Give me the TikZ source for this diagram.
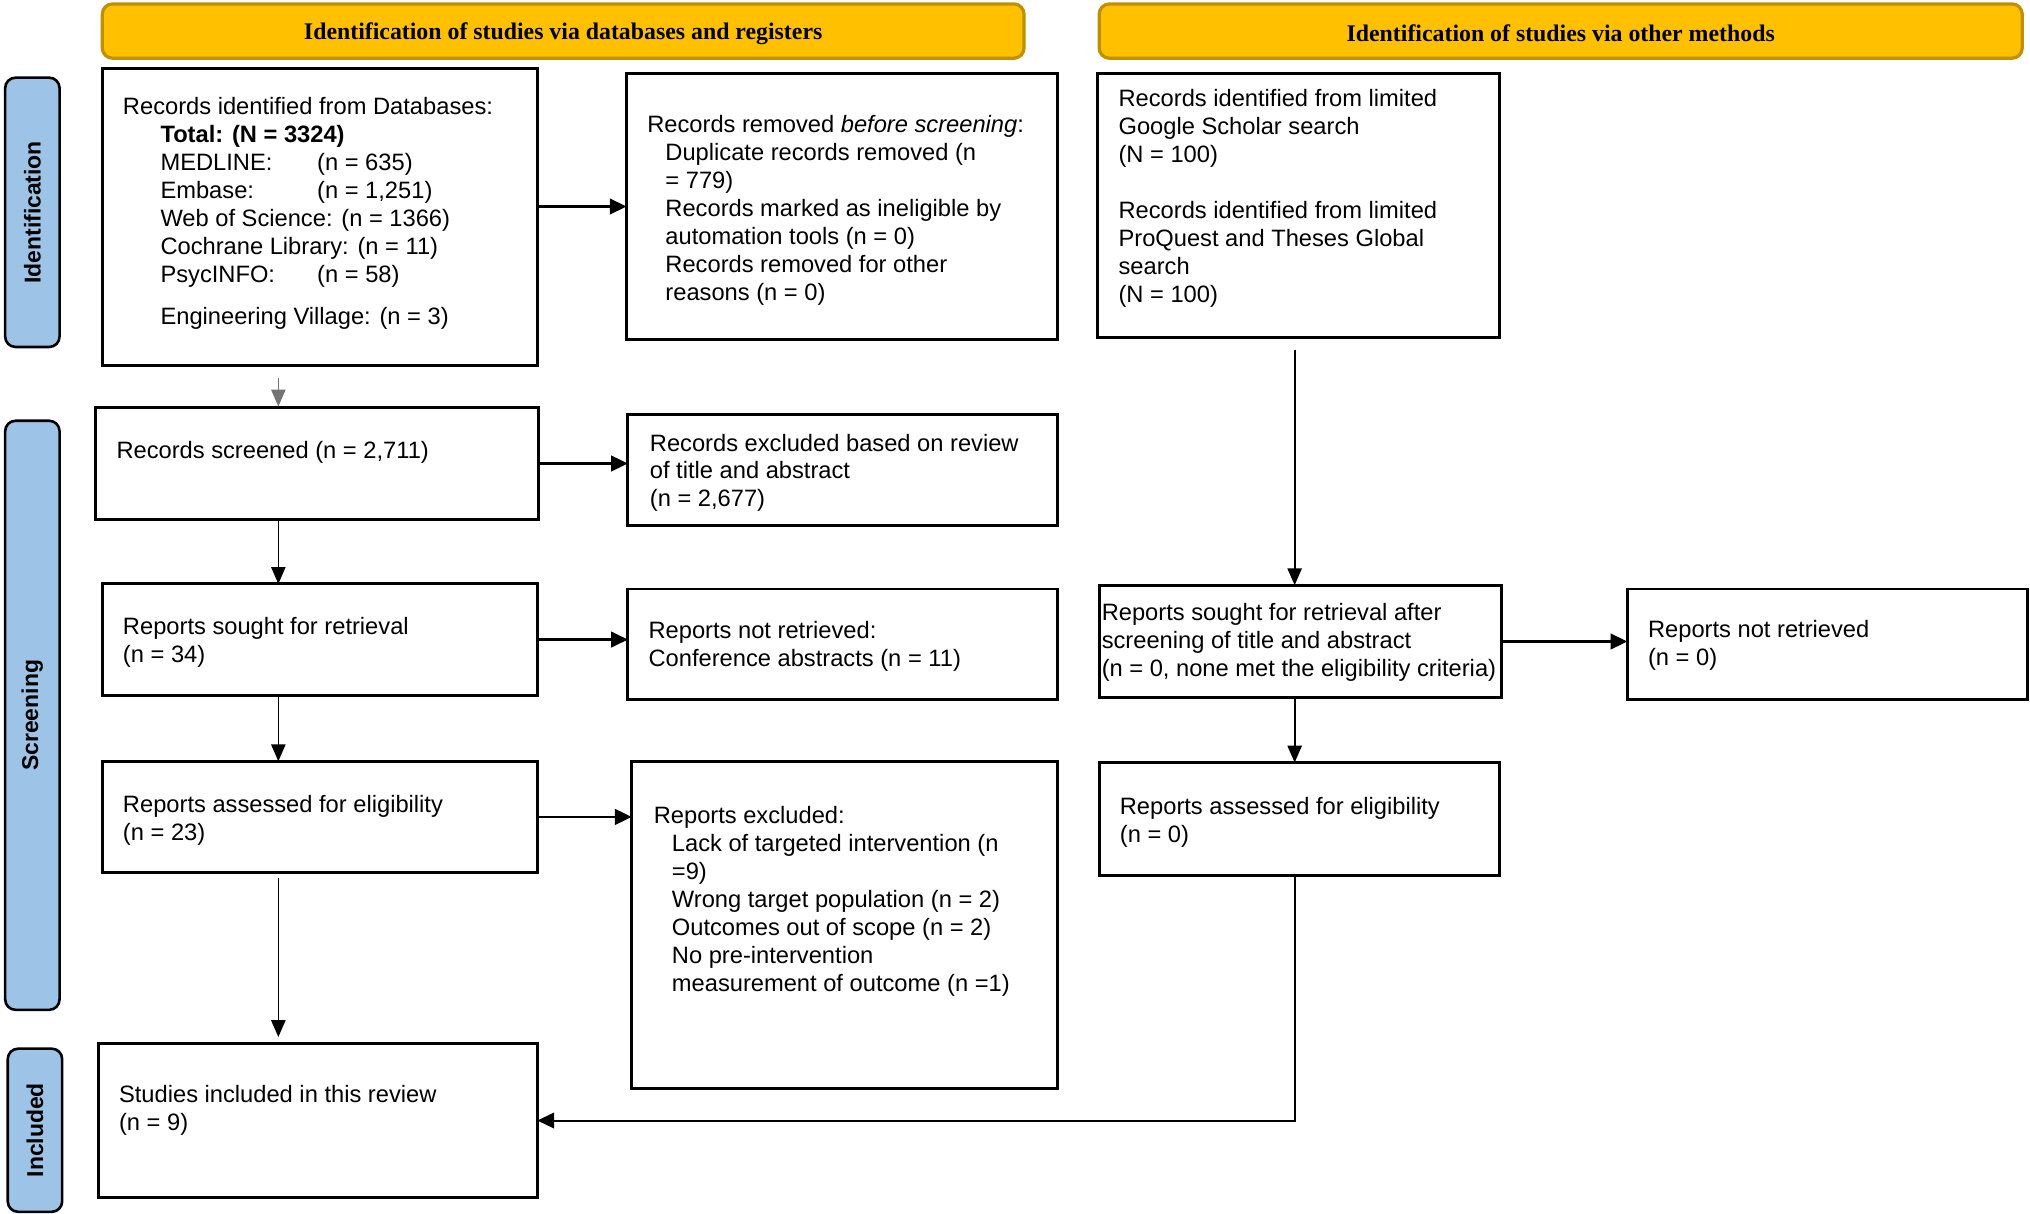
\documentclass[tikz,border=0pt]{standalone}
\usepackage{fontspec}
\setmainfont{Liberation Sans}
\newfontfamily\hdrfont{Liberation Serif}
\usetikzlibrary{arrows.meta,calc}
\definecolor{hdrfill}{HTML}{FFC000}
\definecolor{hdrborder}{HTML}{BF9000}
\definecolor{sidefill}{HTML}{9DC3E6}
\begin{document}
\begin{tikzpicture}[x=1pt,y=-1pt,
  box/.style={draw=black, line width=2.2pt, inner sep=0pt, outer sep=0pt, anchor=north west},
  txt/.style={anchor=north west, inner sep=0pt, outer sep=0pt, align=left, font=\fontsize{18.3}{21.6}\selectfont},
  hdr/.style={draw=hdrborder, fill=hdrfill, line width=2.5pt, rounded corners=8pt, inner sep=0pt, outer sep=0pt, anchor=north west},
  hdrtxt/.style={inner sep=0pt, font=\hdrfont\bfseries\fontsize{18.4}{20}\selectfont},
  side/.style={draw=black, fill=sidefill, line width=2pt, rounded corners=8pt, inner sep=0pt, outer sep=0pt, anchor=north west},
  sidetxt/.style={rotate=90, inner sep=0pt, font=\bfseries\fontsize{17.7}{20}\selectfont, text=black},
  arr/.style={-{Triangle[length=13pt,width=11pt]}, line width=1.3pt},
  harr/.style={-{Triangle[length=13pt,width=12pt]}, line width=2pt}
]
\useasboundingbox (0,0) rectangle (1568,937.7);

% headers
\node[hdr, minimum width=712pt, minimum height=42pt] (h1) at (79,3) {};
\node[hdrtxt] (h1t) at ([yshift=-2pt]h1.center) {Identification of studies via databases and registers};
\node[hdr, minimum width=713pt, minimum height=42pt] (h2) at (849,3) {};
\node[hdrtxt] (h2t) at ([yshift=-2pt]h2.center) {Identification of studies via other methods};

% side labels
\node[side, minimum width=42pt, minimum height=208pt] (s1) at (4,60) {};
\node[sidetxt] (s1t) at (s1.center) {Identification};
\node[side, minimum width=42pt, minimum height=455pt] (s2) at (4,325) {};
\node[sidetxt] (s2t) at (s2.center) {Screening};
\node[side, minimum width=42pt, minimum height=126pt] (s3) at (6,810) {};
\node[sidetxt] (s3t) at (s3.center) {Included};

% boxes
\node[box, minimum width=336pt, minimum height=229pt] (b1) at (79,53) {};
\node[box, minimum width=333pt, minimum height=205pt] (b2) at (484,57) {};
\node[box, minimum width=342pt, minimum height=86pt] (b3) at (74,315) {};
\node[box, minimum width=332pt, minimum height=86pt] (b4) at (485,320) {};
\node[box, minimum width=336pt, minimum height=86pt] (b5) at (79,451) {};
\node[box, minimum width=332pt, minimum height=85pt] (b6) at (485,455) {};
\node[box, minimum width=336pt, minimum height=86pt] (b7) at (79,588) {};
\node[box, minimum width=329pt, minimum height=253pt] (b8) at (488,588) {};
\node[box, minimum width=339pt, minimum height=119pt] (b9) at (76,806) {};
\node[box, minimum width=310pt, minimum height=204pt] (r1) at (848,57) {};
\node[box, minimum width=311pt, minimum height=87pt] (r2) at (849,452) {};
\node[box, minimum width=309pt, minimum height=85pt] (r3) at (1257,455) {};
\node[box, minimum width=309pt, minimum height=87pt] (r4) at (849,589) {};

% texts
\node[txt] (b1t) at (95,75.1) {Records identified from Databases:\\
\hspace*{29pt}\textbf{Total: (N = 3324)}\\
\hspace*{29pt}\makebox[121pt][l]{MEDLINE:}(n = 635)\\
\hspace*{29pt}\makebox[121pt][l]{Embase:}(n = 1,251)\\
\hspace*{29pt}Web of Science: (n = 1366)\\
\hspace*{29pt}Cochrane Library: (n = 11)\\
\hspace*{29pt}\makebox[121pt][l]{PsycINFO:}(n = 58)\\[11.4pt]
\hspace*{29pt}Engineering Village: (n = 3)};
\node[txt] (b2t) at (500,89.1) {Records removed \textit{before screening}:\\
\hspace*{14pt}Duplicate records removed (n\\
\hspace*{14pt}= 779)\\
\hspace*{14pt}Records marked as ineligible by\\
\hspace*{14pt}automation tools (n = 0)\\
\hspace*{14pt}Records removed for other\\
\hspace*{14pt}reasons (n = 0)};
\node[txt] (r1t) at (864,69.1) {Records identified from limited\\
Google Scholar search\\
(N = 100)\\[21.6pt]
Records identified from limited\\
ProQuest and Theses Global\\
search\\
(N = 100)};
\node[txt] (b3t) at (90,341.1) {Records screened (n = 2,711)};
\node[txt] (b4t) at (502,335.1) {Records excluded based on review\\of title and abstract\\(n = 2,677)};
\node[txt] (b5t) at (95,477.1) {Reports sought for retrieval\\(n = 34)};
\node[txt] (b6t) at (501,480.1) {Reports not retrieved:\\Conference abstracts (n = 11)};
\node[txt] (b7t) at (95,614.1) {Reports assessed for eligibility\\(n = 23)};
\node[txt] (b8t) at (505,623.1) {Reports excluded:\\
\hspace*{14pt}Lack of targeted intervention (n\\
\hspace*{14pt}=9)\\
\hspace*{14pt}Wrong target population (n = 2)\\
\hspace*{14pt}Outcomes out of scope (n = 2)\\
\hspace*{14pt}No pre-intervention\\
\hspace*{14pt}measurement of outcome (n =1)};
\node[txt] (b9t) at (92,838.1) {Studies included in this review\\(n = 9)};
\node[txt] (r2t) at (851,466.1) {Reports sought for retrieval after\\screening of title and abstract\\(n = 0, none met the eligibility criteria)};
\node[txt] (r3t) at (1273,479.1) {Reports not retrieved\\(n = 0)};
\node[txt] (r4t) at (865,616.1) {Reports assessed for eligibility\\(n = 0)};

% connectors
\coordinate (lx) at (215,0);
\coordinate (rx) at (1000,0);
\draw[harr] (b1.east |- b2.west) -- (b2.west);
\draw[harr] (b3.east) -- (b3.east -| b4.west);
\draw[harr] (b5.east) -- (b5.east -| b6.west);
\draw[harr] (b7.east) -- (b7.east -| b8.west);
\draw[harr] (r2.east) -- (r2.east -| r3.west);
\draw[arr, line width=1pt, draw=black!55, shorten <=10pt, shorten >=1pt] (b1.south -| lx) -- (b3.north -| lx);
\draw[arr] (b3.south -| lx) -- (b5.north -| lx);
\draw[arr] (b5.south -| lx) -- (b7.north -| lx);
\draw[arr, shorten <=4pt, shorten >=5pt] (b7.south -| lx) -- (b9.north -| lx);
\draw[arr, shorten <=9pt] (r1.south -| rx) -- (r2.north -| rx);
\draw[arr] (r2.south -| rx) -- (r4.north -| rx);
\draw[harr, line width=1.5pt] (r4.south -| rx) |- (b9.east);
\end{tikzpicture}
\end{document}
